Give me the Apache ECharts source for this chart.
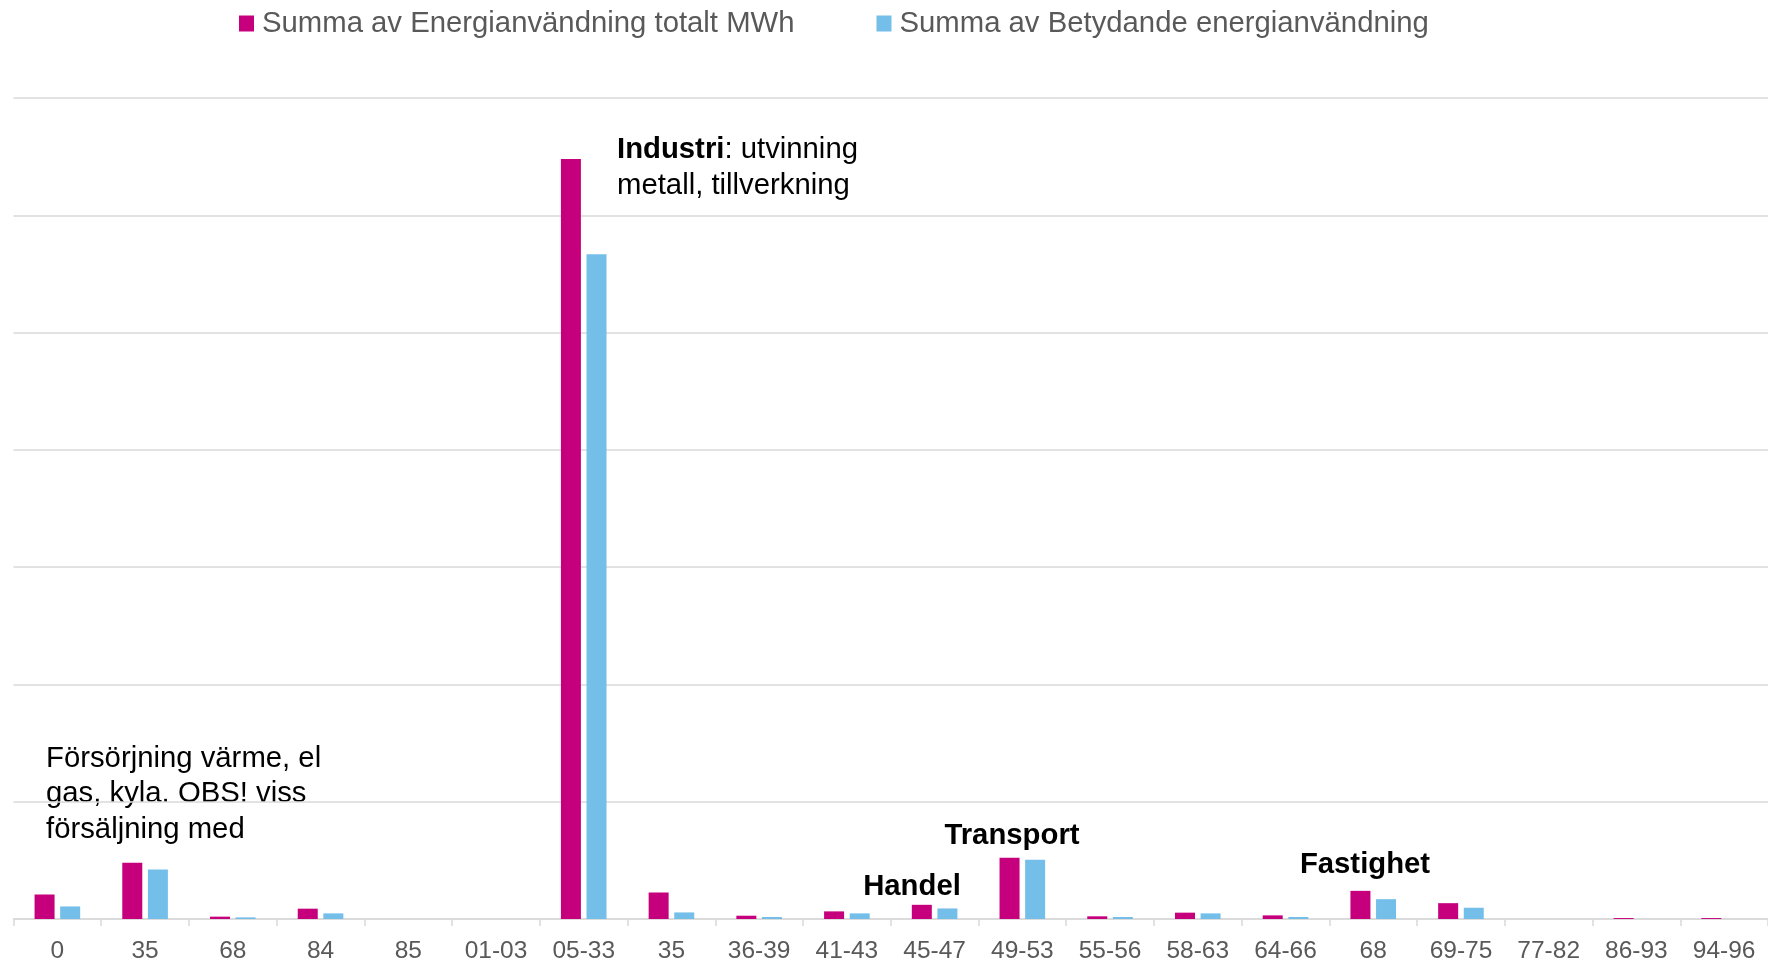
<!DOCTYPE html>
<html><head><meta charset="utf-8">
<script src="https://cdn.jsdelivr.net/npm/echarts@6/dist/echarts.min.js"></script>
<style>html,body{margin:0;padding:0;background:#fff}#c{width:1768px;height:964px}</style>
</head><body><div id="c"></div>
<script>
const categories = ["0","35","68","84","85","01-03","05-33","35","36-39","41-43","45-47","49-53","55-56","58-63","64-66","68","69-75","77-82","86-93","94-96"];
const totalMWh = [209,480,20,88,0,0,6480,226,28,65,121,522,23,54,31,240,135,0,8,8];
const betydande = [107,421,14,48,0,0,5667,56,17,48,90,505,17,48,17,169,96,0,0,0];
const seriesNames = ["Summa av Energianvändning totalt MWh","Summa av Betydande energianvändning"];

const FONT = "'Liberation Sans', Arial, sans-serif";
const chart = echarts.init(document.getElementById('c'), null, {renderer:'canvas'});
chart.setOption({
  animation:false,
  textStyle:{fontFamily:FONT},
  legend:{
    left:239, top:9, padding:0, itemWidth:15, itemHeight:16, itemGap:82,
    icon:'rect',
    textStyle:{fontSize:29.3, color:'#595959', fontFamily:FONT, padding:[0,0,0,3]},
    data:seriesNames
  },
  grid:{left:13.5, right:0, top:98, bottom:39.4, containLabel:false},
  xAxis:{
    type:'category', data:categories, boundaryGap:true,
    axisLine:{lineStyle:{color:'#d9d9d9', width:1.5}},
    axisTick:{show:true, length:7, lineStyle:{color:'#d9d9d9', width:1.5}},
    axisLabel:{color:'#595959', fontSize:24.5, margin:20, fontFamily:FONT, interval:0}
  },
  yAxis:{
    type:'value', min:0, max:7000, interval:1000,
    axisLabel:{show:false}, axisLine:{show:false}, axisTick:{show:false},
    splitLine:{lineStyle:{color:'#d9d9d9', width:1.5}}
  },
  series:[
    {name:seriesNames[0], type:'bar', data:totalMWh, barWidth:20, barGap:'28%',
     itemStyle:{color:'#C6007C'}},
    {name:seriesNames[1], type:'bar', data:betydande, barWidth:20,
     itemStyle:{color:'#74BFE9'}}
  ],
  graphic:[
    {type:'text', left:46, top:741, style:{text:'Försörjning värme, el\ngas, kyla. OBS! viss\nförsäljning med', fontSize:29.3, lineHeight:35.5, fill:'#000', fontFamily:FONT}},
    {type:'text', left:617, top:135.5, style:{rich:{b:{fontWeight:'bold', fontSize:29.3, fill:'#000', fontFamily:FONT, lineHeight:35.5}, n:{fontSize:29.3, fill:'#000', fontFamily:FONT, lineHeight:35.5}}, text:'{b|Industri}{n|: utvinning}\n{n|metall, tillverkning}'}},
    {type:'text', x:1012, y:836, style:{text:'Transport', fontWeight:'bold', fontSize:29.3, fill:'#000', fontFamily:FONT, align:'center', verticalAlign:'middle'}},
    {type:'text', x:912, y:887, style:{text:'Handel', fontWeight:'bold', fontSize:29.3, fill:'#000', fontFamily:FONT, align:'center', verticalAlign:'middle'}},
    {type:'text', x:1365, y:865, style:{text:'Fastighet', fontWeight:'bold', fontSize:29.3, fill:'#000', fontFamily:FONT, align:'center', verticalAlign:'middle'}}
  ]
});
</script></body></html>
